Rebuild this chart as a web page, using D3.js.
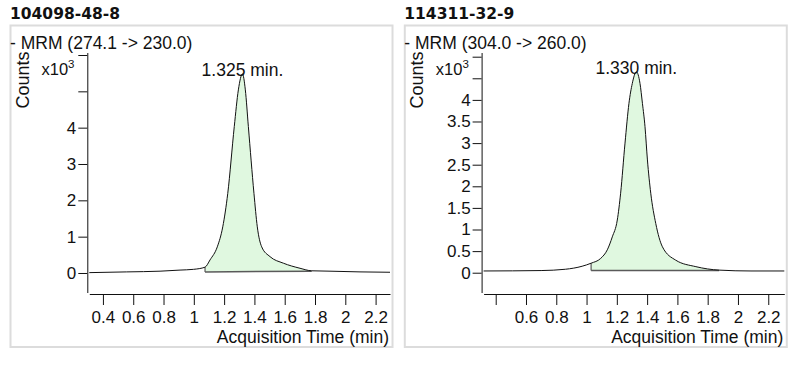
<!DOCTYPE html>
<html>
<head>
<meta charset="utf-8">
<script src="https://cdn.jsdelivr.net/npm/d3@7"></script>
<style>
    body { margin: 0; background: #fff; }
    svg { display: block; }
    text { font-family: "Liberation Sans", Arial, sans-serif; fill: #111; }
</style>
</head>
<body>
<div id="chart"></div>
<script>
// Panel titles and transitions
const titles = ["104098-48-8", "114311-32-9"];
const transitions = ["- MRM (274.1 -> 230.0)", "- MRM (304.0 -> 260.0)"];
const peakLabels = ["1.325 min.", "1.330 min."];

// Left trace: acquisition time (min) and counts (x10^3)
const leftTimes = [0.31, 0.557, 0.777, 0.909, 0.997, 1.074, 1.107, 1.155, 1.191, 1.224, 1.267, 1.294,
    1.321, 1.340, 1.360, 1.397, 1.419, 1.448, 1.503, 1.591, 1.701, 1.778, 1.899, 2.097, 2.295];
const leftCounts = [0.01, 0.03, 0.05, 0.08, 0.10, 0.16, 0.36, 0.72, 1.27, 2.19, 4.03, 5.04,
    5.48, 5.04, 4.03, 2.19, 1.27, 0.72, 0.45, 0.27, 0.13, 0.06, 0.05, 0.03, 0.02];

// Right trace
const rightTimes = [0.32, 0.700, 0.860, 0.971, 1.030, 1.093, 1.137, 1.170, 1.203, 1.225, 1.254, 1.280, 1.302,
    1.329, 1.353, 1.369, 1.386, 1.402, 1.424, 1.457, 1.501, 1.589, 1.722, 1.876, 2.086, 2.306];
const rightCounts = [0.04, 0.05, 0.08, 0.15, 0.22, 0.33, 0.53, 0.83, 1.22, 1.84, 3.0, 3.92, 4.38,
    4.65, 4.38, 3.92, 3.38, 2.61, 1.84, 1.14, 0.60, 0.29, 0.14, 0.06, 0.04, 0.04];

// Integration window: [start time, end time] and baseline counts at each end
const leftIntegration = [1.074, 1.778];
const leftBaseline = [0.03, 0.05];
const rightIntegration = [1.030, 1.876];
const rightBaseline = [0.05, 0.05];

// Axis ranges and ticks
const leftXDomain = [0.31, 2.295];
const rightXDomain = [0.32, 2.306];
const leftYDomain = [-0.537, 6.069];
const rightYDomain = [-0.458, 5.097];
const xTicks = [0.4, 0.6, 0.8, 1, 1.2, 1.4, 1.6, 1.8, 2, 2.2];
const leftYTicks = [0, 1, 2, 3, 4, 5, 6];
const rightYTicks = [0, 0.5, 1, 1.5, 2, 2.5, 3, 3.5, 4, 4.5, 5];
const leftHiddenX = [];
const rightHiddenX = [0.4];
const yLabelMax = 4;

const W = 799, H = 365;
const svg = d3.select("#chart").append("svg")
    .attr("width", W)
    .attr("height", H);

const drawPanel = (bx, opts) => {
    const g = svg.append("g");

    // frame
    g.append("rect")
        .attr("x", bx + 0.5).attr("y", 25.5)
        .attr("width", 382).attr("height", 321.5)
        .attr("fill", "#fff")
        .attr("stroke", "#dcdcdc")
        .attr("stroke-width", 2);

    g.append("text")
        .attr("x", bx).attr("y", 18.5)
        .style("font-family", "'DejaVu Sans', Verdana, sans-serif")
        .style("font-weight", "bold")
        .style("font-size", "15.5px")
        .text(opts.title);

    g.append("text")
        .attr("x", bx).attr("y", 48.5)
        .style("font-size", "17.5px")
        .text(opts.transition);

    const x = d3.scaleLinear().domain(opts.xDomain).range([bx + 79.3, bx + 380]);
    const y = d3.scaleLinear().domain(opts.yDomain).range([292.5, 52.5]);
    const axisX = bx + 77.3;

    // y axis
    const yAxis = g.append("g")
        .attr("transform", `translate(${axisX},0)`)
        .call(d3.axisLeft(y)
            .tickValues(opts.yTicks)
            .tickSize(9)
            .tickSizeOuter(0)
            .tickPadding(2)
            .tickFormat(d => d <= yLabelMax ? d3.format("~g")(d) : ""));
    yAxis.selectAll("text").style("font-size", "17px").attr("fill", "#111");

    // x axis
    const xAxis = g.append("g")
        .attr("transform", "translate(0,294)")
        .call(d3.axisBottom(x)
            .tickValues(xTicks)
            .tickSize(11)
            .tickSizeOuter(0)
            .tickPadding(6)
            .tickFormat(d => opts.hiddenX.includes(d) ? "" : d3.format("~g")(d)));
    xAxis.selectAll("text").style("font-size", "17px").attr("fill", "#111");
    [yAxis, xAxis].forEach(a => {
        a.attr("font-family", null);
        a.selectAll("line, path").attr("stroke", "#111");
    });

    // axis titles
    g.append("text")
        .attr("transform", `translate(${bx + 18.5},108.5) rotate(-90)`)
        .style("font-size", "18px")
        .text("Counts");

    const mult = g.append("text")
        .attr("x", bx + 31.5).attr("y", 75)
        .style("font-size", "16.5px")
        .text("x10");
    mult.append("tspan")
        .attr("dy", -7)
        .style("font-size", "11.5px")
        .text("3");

    g.append("text")
        .attr("x", bx + 379).attr("y", 343)
        .attr("text-anchor", "end")
        .style("font-size", "17.5px")
        .text("Acquisition Time (min)");

    const pts = opts.times.map((t, i) => ({ t: t, v: opts.counts[i] }));
    const [ts, te] = opts.integration;
    const [bs, be] = opts.baseline;
    const base = t => bs + (be - bs) * (t - ts) / (te - ts);

    const clipId = `clip-${Math.round(bx)}`;
    g.append("clipPath").attr("id", clipId)
        .append("rect")
        .attr("x", x(ts)).attr("y", 0)
        .attr("width", x(te) - x(ts)).attr("height", H);

    // integrated peak area
    g.append("path")
        .datum(pts)
        .attr("clip-path", `url(#${clipId})`)
        .attr("fill", "#e0f8e0")
        .attr("d", d3.area()
            .curve(d3.curveMonotoneX)
            .x(d => x(d.t))
            .y0(d => y(base(d.t)))
            .y1(d => y(d.v)));

    g.append("line")
        .attr("x1", x(ts)).attr("y1", y(bs))
        .attr("x2", x(te)).attr("y2", y(be))
        .attr("stroke", "#5a5a5a")
        .attr("stroke-width", 1.5);

    const vStart = opts.counts[opts.times.indexOf(ts)];
    g.append("line")
        .attr("x1", x(ts)).attr("y1", y(bs))
        .attr("x2", x(ts)).attr("y2", y(vStart))
        .attr("stroke", "#5a5a5a")
        .attr("stroke-width", 1.2);

    // trace
    g.append("path")
        .datum(pts)
        .attr("fill", "none")
        .attr("stroke", "#111")
        .attr("stroke-width", 1)
        .attr("d", d3.line()
            .curve(d3.curveMonotoneX)
            .x(d => x(d.t))
            .y(d => y(d.v)));

    // peak label
    const peak = pts.reduce((a, b) => (b.v > a.v ? b : a));
    g.append("text")
        .attr("x", x(peak.t)).attr("y", y(peak.v) + 2)
        .attr("text-anchor", "middle")
        .style("font-size", "17.5px")
        .text(opts.peakLabel);
};

drawPanel(10, {
    title: titles[0], transition: transitions[0], peakLabel: peakLabels[0],
    times: leftTimes, counts: leftCounts,
    integration: leftIntegration, baseline: leftBaseline,
    xDomain: leftXDomain, yDomain: leftYDomain,
    yTicks: leftYTicks, hiddenX: leftHiddenX
});

drawPanel(404.3, {
    title: titles[1], transition: transitions[1], peakLabel: peakLabels[1],
    times: rightTimes, counts: rightCounts,
    integration: rightIntegration, baseline: rightBaseline,
    xDomain: rightXDomain, yDomain: rightYDomain,
    yTicks: rightYTicks, hiddenX: rightHiddenX
});
</script>
</body>
</html>
